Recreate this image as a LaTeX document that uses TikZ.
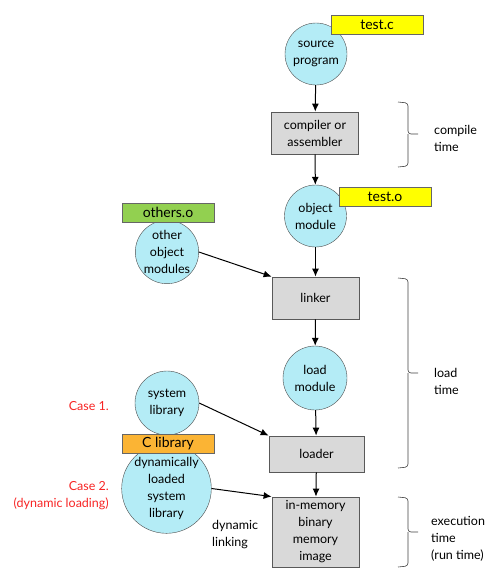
\documentclass[tikz,border=0pt]{standalone}
\usepackage{fontspec}
\setmainfont{Lato}
\usepackage{xcolor}
\usepackage{tikz}
\usetikzlibrary{arrows.meta}
\definecolor{bubblecyan}{HTML}{B4ECF6}
\definecolor{stagegray}{HTML}{D9D9D9}
\definecolor{tagyellow}{HTML}{FFFF00}
\definecolor{taggreen}{HTML}{92D050}
\definecolor{tagorange}{HTML}{FBB434}
\definecolor{casered}{HTML}{F72525}

\begin{document}
\begin{tikzpicture}[x=1pt, y=-1pt,
        every node/.style={font=\fontsize{12.5}{17}\selectfont, align=center, inner sep=0pt},
        bubble/.style={circle, draw=black!70, fill=bubblecyan, minimum size=62pt},
        stage/.style={draw=black!65, fill=stagegray, line width=0.8pt, minimum width=87pt, minimum height=42pt},
        tag/.style={draw=black!60, minimum width=92pt, minimum height=19pt, font=\fontsize{14}{16}\selectfont},
        flow/.style={-{Latex[length=8pt, width=7pt]}, line width=1pt},
        timebrace/.style={draw=black!75, line width=0.6pt, rounded corners=3pt},
        note/.style={align=left, anchor=west}
    ]
        \useasboundingbox (0, 0) rectangle (503, 574);

        \node[bubble] (src) at (316, 54) {source\\program};
        \node[tag, fill=tagyellow] (testc) at (377, 24.5) {test.c};
        \node[stage] (cmp) at (315, 133) {compiler or\\assembler};
        \node[bubble] (obj) at (315.5, 216) {object\\module};
        \node[tag, fill=tagyellow] (testo) at (385, 197) {test.o};
        \node[stage] (lnk) at (315.5, 298) {linker};
        \node[bubble, minimum size=64pt] (lmod) at (315, 378) {load\\module};
        \node[stage, minimum width=95pt, minimum height=36pt] (ldr) at (316.5, 454) {loader};
        \node[stage, minimum height=70pt] (mem) at (315.5, 532) {in-memory\\binary\\memory\\image};

        \node[bubble] (oth) at (167, 252) {other\\object\\modules};
        \node[tag, fill=taggreen] (otherso) at (168, 212.5) {others.o};
        \node[bubble, minimum size=64pt] (sys) at (167, 403) {system\\library};
        \node[bubble, minimum size=72pt] (dyn) at (166.5, 488.5) {dynamically\\loaded\\system\\library};
        \node[tag, fill=tagorange] (clib) at (168, 443.5) {C library};

        \node[anchor=east, align=right, text=casered] (case1) at (109, 406) {Case 1.};
        \node[anchor=east, align=right, text=casered] (case2) at (109, 496) {Case 2.\\(dynamic loading)};
        \node[note] (dynlink) at (212, 535) {dynamic\\linking};

        \draw[flow] (src) -- (cmp);
        \draw[flow] (cmp) -- (obj);
        \draw[flow] (obj) -- (lnk);
        \draw[flow] (lnk) -- (lmod);
        \draw[flow] (lmod) -- (ldr);
        \draw[flow] (ldr) -- (mem);
        \draw[flow] (oth.east) -- (lnk.north west);
        \draw[flow] (sys.east) -- (ldr.north west);
        \draw[flow] (dyn.east) -- (mem.north west);

        \draw[timebrace] (398, 102) -- (408, 103) -- (408, 134) -- (418, 134);
        \draw[timebrace] (408, 134) -- (408, 166) -- (398, 167);
        \node[note] (compile) at (434, 138) {compile\\time};
        \draw[timebrace] (398, 278) -- (408, 279) -- (408, 373) -- (418, 373);
        \draw[timebrace] (408, 373) -- (408, 467) -- (398, 468);
        \node[note] (load) at (434, 381) {load\\time};
        \draw[timebrace] (398, 497) -- (408, 498) -- (408, 532) -- (418, 532);
        \draw[timebrace] (408, 532) -- (408, 566) -- (398, 567);
        \node[note] (exec) at (431, 539) {execution\\time\\(run time)};
    \end{tikzpicture}
\end{document}
